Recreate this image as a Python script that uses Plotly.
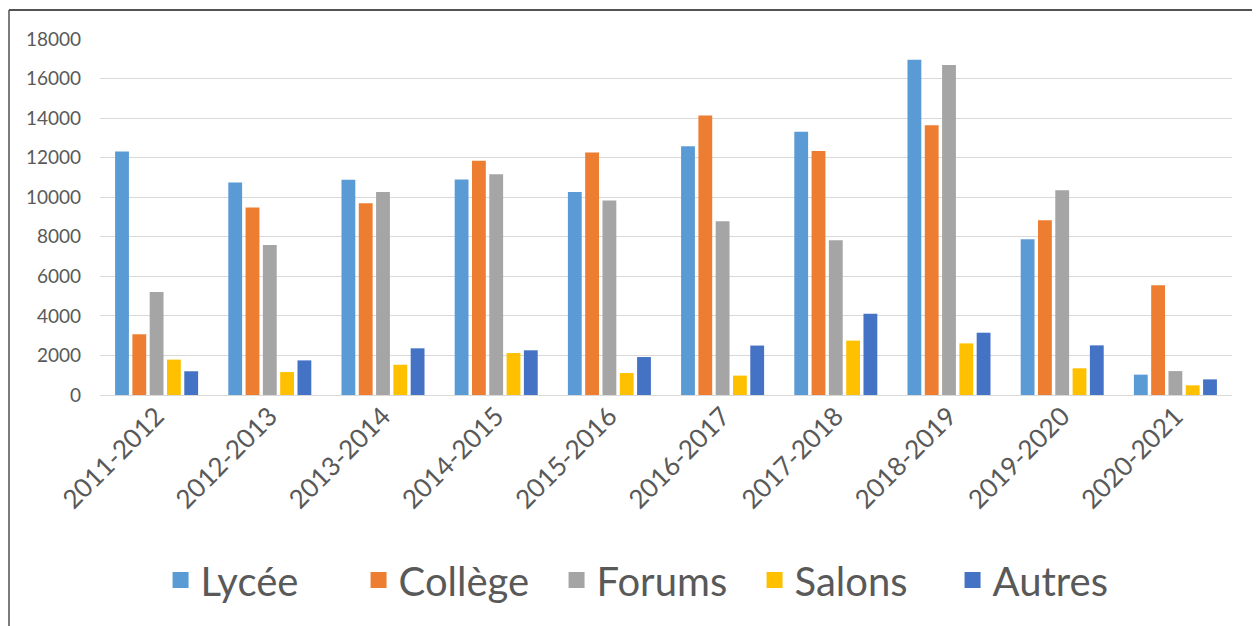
import plotly.graph_objects as go

categories = ["2011-2012", "2012-2013", "2013-2014", "2014-2015", "2015-2016",
              "2016-2017", "2017-2018", "2018-2019", "2019-2020", "2020-2021"]
lycee = [12310, 10740, 10880, 10890, 10270, 12580, 13310, 16950, 7880, 1030]
college = [3070, 9480, 9700, 11840, 12260, 14130, 12340, 13640, 8840, 5550]
forums = [5210, 7590, 10270, 11160, 9830, 8790, 7820, 16680, 10350, 1210]
salons = [1790, 1160, 1530, 2120, 1110, 980, 2750, 2610, 1350, 490]
autres = [1200, 1750, 2360, 2260, 1920, 2500, 4110, 3150, 2510, 790]

series = [
    ("Lycée", lycee, "#5B9BD5"),
    ("Collège", college, "#ED7D31"),
    ("Forums", forums, "#A5A5A5"),
    ("Salons", salons, "#FFC000"),
    ("Autres", autres, "#4472C4"),
]

FONT = "Lato"
TXT = "#595959"

fig = go.Figure()
for name, vals, col in series:
    fig.add_trace(go.Bar(x=categories, y=vals, name=name, showlegend=False,
                         legendgroup=name,
                         marker=dict(color=col, line=dict(width=0))))
# legend entries with larger square symbols
for name, vals, col in series:
    fig.add_trace(go.Scatter(x=[None], y=[None], mode="markers", name=name,
                             legendgroup=name,
                             marker=dict(symbol="square", size=16, color=col)))

fig.update_layout(
    width=1252, height=618,
    paper_bgcolor="white", plot_bgcolor="white",
    margin=dict(l=92, r=28, t=31, b=231),
    barmode="group", bargap=0.236, bargroupgap=0.2,
    font=dict(family=FONT, color=TXT),
    legend=dict(orientation="h", x=0.0535, xanchor="left", y=-0.52, yanchor="middle",
                font=dict(size=40, color=TXT, family=FONT), itemwidth=30,
                entrywidth=153, entrywidthmode="pixels",
                traceorder="normal", itemsizing="trace"),
    xaxis=dict(tickangle=-45, tickfont=dict(size=26, color=TXT, family=FONT),
               showgrid=False, showline=False, ticks="", automargin=False),
    yaxis=dict(range=[0, 18000], dtick=2000, tickformat="d",
               tickfont=dict(size=19, color=TXT, family=FONT),
               gridcolor="#D9D9D9", gridwidth=1.3, zeroline=True, zerolinecolor="#D9D9D9",
               zerolinewidth=1.3, showline=False, ticks="", ticklabelstandoff=18,
               automargin=False),
    shapes=[
        dict(type="line", xref="paper", yref="paper",
             x0=(1 - 92) / 1132, x1=1.2, y0=(387 - 2) / 356, y1=(387 - 2) / 356,
             line=dict(color="#1a1a1a", width=1.5)),
        dict(type="line", xref="paper", yref="paper",
             x0=(1 - 92) / 1132, x1=(1 - 92) / 1132, y0=-1.0, y1=(387 - 2) / 356,
             line=dict(color="#505050", width=1.5)),
    ],
)

fig.write_html("out.html")
